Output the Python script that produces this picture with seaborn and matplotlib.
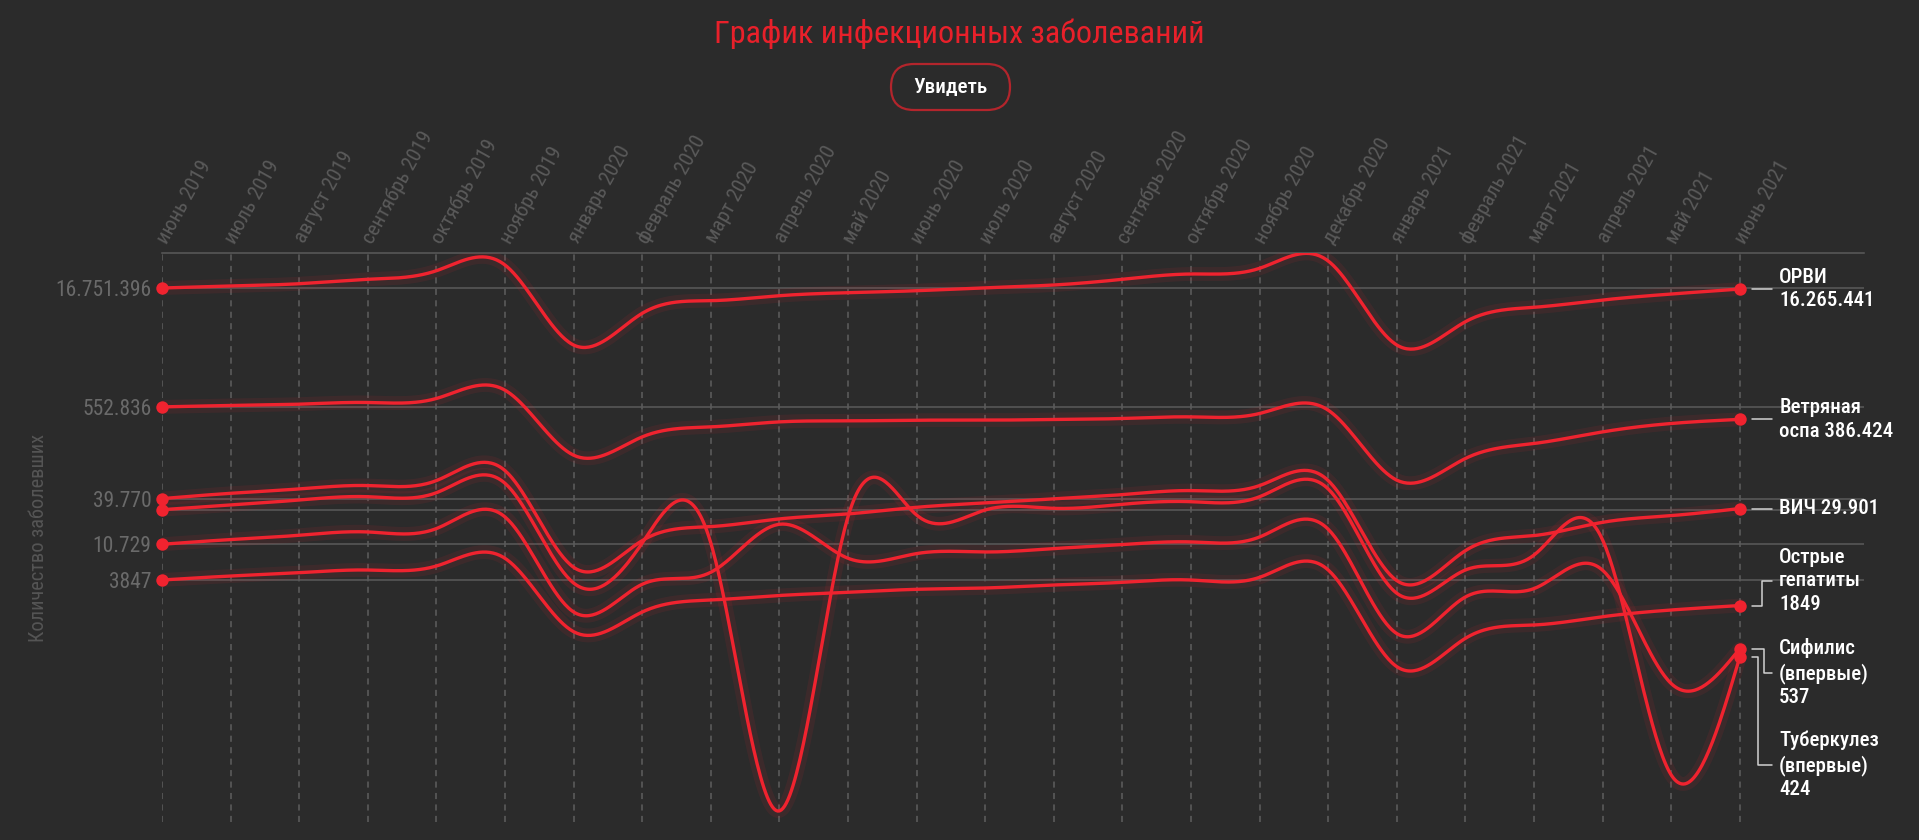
import numpy as np
import pandas as pd
import matplotlib
matplotlib.use("Agg")
import matplotlib.pyplot as plt
import seaborn as sns
from matplotlib.transforms import IdentityTransform
from matplotlib.patches import FancyBboxPatch
from matplotlib.lines import Line2D
from matplotlib.ticker import NullLocator

# ---------------- data ----------------
months = ["июнь 2019", "июль 2019", "август 2019", "сентябрь 2019", "октябрь 2019",
          "ноябрь 2019", "январь 2020", "февраль 2020", "март 2020", "апрель 2020",
          "май 2020", "июнь 2020", "июль 2020", "август 2020", "сентябрь 2020",
          "октябрь 2020", "ноябрь 2020", "декабрь 2020", "январь 2021", "февраль 2021",
          "март 2021", "апрель 2021", "май 2021", "июнь 2021"]

orvi = [16751396, 17740000, 18950000, 21500000, 27520000, 32410000, 3263000, 8106000,
        11640000, 13430000, 14640000, 15500000, 16890000, 18260000, 21500000, 25040000,
        29490000, 36360000, 3263000, 6370000, 9630000, 11870000, 14100000, 16265441]
varicella = [552836, 575400, 597300, 627200, 703800, 892700, 138300, 233700, 311400,
             359500, 369900, 377400, 377400, 385100, 396300, 415000, 457500, 503000,
             67500, 125800, 193400, 269800, 343300, 386424]
hiv = [39770, 46300, 52500, 57800, 66700, 88800, 5540, 11920, 17810, 22210, 25640, 30990,
       35160, 39440, 44600, 50050, 57800, 66700, 3780, 8940, 13760, 20150, 24420, 29901]
hepatitis = [3847, 4313, 4745, 5125, 5750, 7170, 873, 1536, 2167, 2466, 2703, 2946, 3058,
             3333, 3600, 3847, 4155, 5125, 320, 722, 1058, 1342, 1627, 1849]
syphilis = [10729, 12280, 13890, 15270, 16840, 23490, 1538, 3404, 4805, 19050, 7180, 8210,
            8600, 9480, 10640, 11470, 13230, 16500, 827, 2364, 3010, 5090, 197, 537]
tuberculosis = [28920, 33100, 38200, 42000, 47100, 61700, 3530, 11120, 11120, 5.1, 23650,
                24800, 28700, 30100, 33800, 36400, 42000, 52400, 2630, 5130, 7880, 12120,
                14.3, 424]

series_names = ["ОРВИ", "Ветряная\nоспа", "ВИЧ", "Острые\nгепатиты",
                "Сифилис\n(впервые)", "Туберкулез\n(впервые)"]
series_values = [orvi, varicella, hiv, hepatitis, syphilis, tuberculosis]
value_joiner = ["\n", " ", " ", "\n", "\n", "\n"]

title = "График инфекционных заболеваний"
button_text = "Увидеть"
y_title = "Количество заболевших"

# ---------------- style ----------------
BG = "#2b2b2b"
RED = "#f0232f"
GRID = "#5b5b5b"
TICK = "#6a6a6a"

sns.set_theme(style="dark")
plt.rcParams["font.family"] = ["Roboto Condensed", "Liberation Sans Narrow", "Roboto", "DejaVu Sans"]
plt.rcParams["axes.facecolor"] = BG
plt.rcParams["figure.facecolor"] = BG


def fmt(v):
    v = int(round(v))
    return f"{v:,}".replace(",", ".") if v >= 10000 else str(v)


def natural_spline(xk, yk, xq):
    n = len(xk)
    h = np.diff(xk)
    A = np.zeros((n, n))
    r = np.zeros(n)
    A[0, 0] = A[-1, -1] = 1.0
    for i in range(1, n - 1):
        A[i, i - 1] = h[i - 1]
        A[i, i] = 2 * (h[i - 1] + h[i])
        A[i, i + 1] = h[i]
        r[i] = 6 * ((yk[i + 1] - yk[i]) / h[i] - (yk[i] - yk[i - 1]) / h[i - 1])
    M = np.linalg.solve(A, r)
    idx = np.clip(np.searchsorted(xk, xq) - 1, 0, n - 2)
    x0, x1 = xk[idx], xk[idx + 1]
    hh = x1 - x0
    a = x1 - xq
    b = xq - x0
    return ((M[idx] * a ** 3 + M[idx + 1] * b ** 3) / (6 * hh)
            + (yk[idx] / hh - M[idx] * hh / 6) * a
            + (yk[idx + 1] / hh - M[idx + 1] * hh / 6) * b)


xk = np.arange(len(months), dtype=float)
xq = np.linspace(0, xk[-1], 23 * 40 + 1)

dense_rows = []
end_rows = []
for name, vals in zip(series_names, series_values):
    logv = np.log10(np.asarray(vals, dtype=float))
    sm = 10 ** natural_spline(xk, logv, xq)
    dense_rows.append(pd.DataFrame({"x": xq, "v": sm, "series": name}))
    end_rows.append({"x": xk[0], "v": vals[0], "series": name})
    end_rows.append({"x": xk[-1], "v": vals[-1], "series": name})
dense = pd.concat(dense_rows, ignore_index=True)
ends = pd.DataFrame(end_rows)

W, H = 1919, 840
fig = plt.figure(figsize=(W / 100, H / 100), dpi=100, facecolor=BG)
ax = fig.add_axes([162 / W, 18 / H, 1702 / W, 569 / H])
ax.set_facecolor(BG)
ax.set_yscale("log")

pal = {n: RED for n in series_names}
sns.lineplot(data=dense, x="x", y="v", hue="series", palette=pal, estimator=None,
             sort=False, legend=False, lw=10, alpha=0.09, ax=ax, zorder=3)
sns.lineplot(data=dense, x="x", y="v", hue="series", palette=pal, estimator=None,
             sort=False, legend=False, lw=2.4, ax=ax, zorder=4)
sns.scatterplot(data=ends, x="x", y="v", color=RED, s=80, linewidth=0, ax=ax,
                zorder=6, clip_on=False, legend=False)

ax.set_xlim(0, 24.81)
ax.set_ylim(3.71, 45.74e6)

# y ticks at first values
firsts = sorted([v[0] for v in series_values], reverse=True)
ylabels = []
prev = None
for v in firsts:
    if prev is not None and abs(np.log10(prev) - np.log10(v)) < 0.25:
        ylabels.append("")
    else:
        ylabels.append(fmt(v))
        prev = v
ax.set_yticks(firsts)
ax.set_yticklabels(ylabels)
ax.yaxis.set_minor_locator(NullLocator())
ax.tick_params(axis="y", length=0, pad=7.5, labelcolor=TICK, labelsize=15.5)

ax.set_xticks(xk)
ax.xaxis.tick_top()
ax.set_xticklabels(months, rotation=61, ha="left", va="center", rotation_mode="anchor")
ax.tick_params(axis="x", length=0, pad=8, labelcolor="#5a5a5a", labelsize=15)

ax.grid(axis="y", color=GRID, lw=1.1, ls="-")
ax.grid(axis="x", color="#5e5e5e", lw=1.1, ls=(0, (4, 3.5)))
for s in ["left", "right", "bottom"]:
    ax.spines[s].set_visible(False)
ax.spines["top"].set_color(GRID)
ax.spines["top"].set_linewidth(1.1)
ax.set_xlabel("")
ax.set_ylabel("")

# right-side labels with connectors
label_dy = [0, 0, 0, 25, -24, -108]
elbow_x = [None, None, None, 21.7, 24.0, 18.3]
for name, vals, join, dy, ex in zip(series_names, series_values, value_joiner, label_dy, elbow_x):
    px, py = ax.transData.transform((xk[-1], vals[-1]))
    if ex is None:
        xs_, ys_ = [px + 11.7, px + 31.7], [py, py]
    else:
        xs_ = [px + 11.7, px + ex, px + ex, px + 31.7]
        ys_ = [py, py, py + dy, py + dy]
    fig.add_artist(Line2D(xs_, ys_, transform=IdentityTransform(), color="#d2d2d2", lw=1.1))
    ax.annotate(name + join + fmt(vals[-1]), xy=(xk[-1], vals[-1]), xytext=(39.3, dy),
                textcoords="offset pixels", ha="left", va="center", color="white",
                fontsize=15, fontweight="medium", linespacing=1.3, annotation_clip=False)

# title, button, axis title
fig.text(0.5, 1 - 42.7 / H, title, color="#e8202a", fontsize=23.2, ha="center", va="baseline")
btn = FancyBboxPatch((891, H - 110), 119, 46, boxstyle="round,pad=0,rounding_size=23",
                     transform=IdentityTransform(), fill=False, edgecolor="#b3252c", lw=1.6)
fig.add_artist(btn)
fig.text(950.5 / W, 1 - 87 / H, button_text, color="white", fontsize=15.2,
         fontweight="medium", ha="center", va="center")
fig.text(38 / W, 1 - 538 / H, y_title, rotation=90, color="#555555", fontsize=14.7,
         ha="center", va="center")

fig.savefig("out.png", dpi=100, facecolor=BG)
